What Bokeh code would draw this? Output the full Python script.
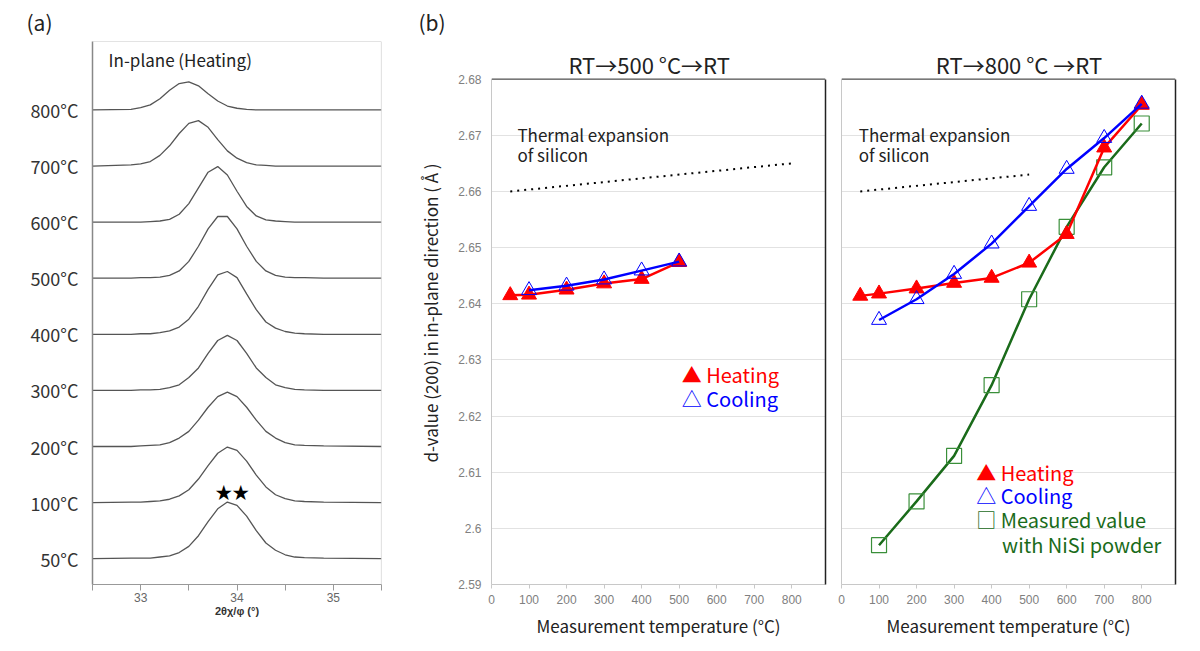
from bokeh.plotting import figure
from bokeh.layouts import row
from bokeh.models import (FixedTicker, CustomJSTickFormatter, Span, Label, Range1d,
                          LinearAxis, Title)
from bokeh.embed import file_html
from bokeh.resources import INLINE

# ---------------- panel (a): in-plane XRD profiles (heating) ----------------
two_theta = [32.5, 32.9, 33.0, 33.1, 33.2, 33.3, 33.4, 33.5, 33.6, 33.7, 33.8,
             33.9, 34.0, 34.1, 34.2, 34.3, 34.4, 34.5, 34.6, 34.7, 34.9, 35.5]
temp_labels = ["50°C", "100°C", "200°C", "300°C", "400°C", "500°C", "600°C", "700°C", "800°C"]
int_50 = [0.0, 0.01, 0.01, 0.01, 0.03, 0.05, 0.11, 0.22, 0.41, 0.66, 0.89, 1.01, 0.95, 0.76, 0.50, 0.28, 0.15, 0.07, 0.03, 0.02, 0.01, 0.0]
int_100 = [0.0, 0.01, 0.01, 0.02, 0.03, 0.06, 0.12, 0.23, 0.42, 0.66, 0.88, 0.99, 0.93, 0.74, 0.49, 0.28, 0.14, 0.07, 0.03, 0.02, 0.01, 0.0]
int_200 = [0.0, 0.0, 0.01, 0.02, 0.03, 0.07, 0.15, 0.27, 0.47, 0.70, 0.89, 0.97, 0.89, 0.70, 0.47, 0.27, 0.15, 0.07, 0.03, 0.02, 0.01, 0.0]
int_300 = [0.0, 0.0, 0.01, 0.01, 0.02, 0.05, 0.10, 0.23, 0.40, 0.66, 0.89, 0.98, 0.89, 0.66, 0.40, 0.23, 0.10, 0.05, 0.02, 0.01, 0.0, 0.0]
int_400 = [0.0, 0.0, 0.01, 0.01, 0.03, 0.06, 0.13, 0.27, 0.50, 0.80, 1.06, 1.12, 1.01, 0.72, 0.44, 0.22, 0.11, 0.05, 0.02, 0.01, 0.0, 0.0]
int_500 = [0.0, 0.0, 0.01, 0.01, 0.02, 0.05, 0.13, 0.30, 0.57, 0.88, 1.10, 1.10, 0.88, 0.57, 0.30, 0.13, 0.05, 0.02, 0.01, 0.01, 0.0, 0.0]
int_600 = [0.0, 0.0, 0.0, 0.01, 0.02, 0.05, 0.14, 0.33, 0.61, 0.89, 0.99, 0.84, 0.55, 0.28, 0.11, 0.04, 0.02, 0.01, 0.0, 0.0, 0.0, 0.0]
int_700 = [0.0, 0.02, 0.04, 0.08, 0.19, 0.36, 0.58, 0.76, 0.81, 0.69, 0.47, 0.27, 0.14, 0.06, 0.02, 0.01, 0.0, 0.0, 0.0, 0.0, 0.0, 0.0]
int_800 = [0.0, 0.01, 0.04, 0.09, 0.20, 0.35, 0.47, 0.50, 0.43, 0.29, 0.16, 0.07, 0.03, 0.01, 0.0, 0.0, 0.0, 0.0, 0.0, 0.0, 0.0, 0.0]
profiles = [int_50, int_100, int_200, int_300, int_400, int_500, int_600, int_700, int_800]
theta_major_ticks = [33, 34, 35]
theta_minor_ticks = [32.5, 33.5, 34.5, 35.5]

# ---------------- panel (b): d-value (200) vs temperature ----------------
temp_ticks = [0, 100, 200, 300, 400, 500, 600, 700, 800]
d_ticks = [2.59, 2.60, 2.61, 2.62, 2.63, 2.64, 2.65, 2.66, 2.67, 2.68]

heat500_t = [50, 100, 200, 300, 400, 500]
heat500_d = [2.6415, 2.6416, 2.6425, 2.6436, 2.6444, 2.6474]
cool500_t = [100, 200, 300, 400, 500]
cool500_d = [2.6424, 2.6432, 2.6443, 2.6459, 2.6475]
si500_t = [50, 800]
si500_d = [2.660, 2.665]

heat800_t = [50, 100, 200, 300, 400, 500, 600, 700, 800]
heat800_d = [2.6414, 2.6418, 2.6427, 2.6437, 2.6446, 2.6473, 2.6524, 2.6678, 2.6754]
cool800_t = [100, 200, 300, 400, 500, 600, 700, 800]
cool800_d = [2.6371, 2.6408, 2.6453, 2.6507, 2.6574, 2.6640, 2.6695, 2.6756]
nisi_t = [100, 200, 300, 400, 500, 600, 700, 800]
nisi_d = [2.5970, 2.6048, 2.6129, 2.6255, 2.6408, 2.6537, 2.6643, 2.6721]
si800_t = [50, 500]
si800_d = [2.660, 2.663]

FONT = "Noto Sans CJK JP"
TICKFONT = "Liberation Sans"
RED = "#ff0000"
BLUE = "#0000ff"
GREEN_LINE = "#1a6b1a"
GREEN_MK = "#3a8f3a"
H = 640
MB_TOP = 39
MB_BOTTOM = 54
T_MAX = 890
D_MIN, D_AXIS_MAX, D_VIEW_MAX = 2.59, 2.68, 2.6867


def make_fig(width, xr, yr, mbl, mbr):
    p = figure(width=width, height=H, x_range=xr, y_range=yr,
               output_backend="svg", toolbar_location=None,
               min_border_left=mbl, min_border_right=mbr,
               min_border_top=MB_TOP, min_border_bottom=MB_BOTTOM)
    p.outline_line_color = None
    p.background_fill_color = "white"
    p.border_fill_color = "white"
    return p


# ===== panel (a) =====
pa = make_fig(408, Range1d(32.5, 35.5), Range1d(-0.46, 9.22), 92, 27)
pa.xgrid.visible = False
pa.ygrid.visible = False
for i, prof in enumerate(profiles):
    pa.line(two_theta, [i + v for v in prof], line_color="#555555", line_width=1.3)

pa.xaxis.ticker = FixedTicker(ticks=theta_major_ticks, minor_ticks=theta_minor_ticks)
pa.xaxis.major_tick_out = 6
pa.xaxis.major_tick_in = 0
pa.xaxis.minor_tick_out = 6
pa.xaxis.minor_tick_in = 0
pa.xaxis.major_tick_line_color = "#999999"
pa.xaxis.minor_tick_line_color = "#999999"
pa.xaxis.axis_line_color = "#999999"
pa.xaxis.major_label_text_font = TICKFONT
pa.xaxis.major_label_text_font_size = "12px"
pa.xaxis.major_label_text_color = "#666666"
pa.xaxis.major_label_standoff = 2
pa.xaxis.axis_label = "2θχ/φ (°)"
pa.xaxis.axis_label_text_font = TICKFONT
pa.xaxis.axis_label_text_font_size = "11px"
pa.xaxis.axis_label_text_font_style = "bold"
pa.xaxis.axis_label_text_color = "#333333"
pa.xaxis.axis_label_standoff = 0

pa.yaxis.ticker = FixedTicker(ticks=list(range(len(temp_labels))))
pa.yaxis.formatter = CustomJSTickFormatter(args=dict(labels=temp_labels),
                                           code="return labels[Math.round(tick)] || '';")
pa.yaxis.major_tick_out = 0
pa.yaxis.major_tick_in = 0
pa.yaxis.minor_tick_out = 0
pa.yaxis.minor_tick_in = 0
pa.yaxis.axis_line_color = "#888888"
pa.yaxis.axis_line_width = 1.5
pa.yaxis.major_label_text_font = FONT
pa.yaxis.major_label_text_font_size = "18px"
pa.yaxis.major_label_text_color = "#333333"
pa.yaxis.major_label_standoff = 14

pa.add_layout(Span(location=9.22, dimension="width", line_color="#c8c8c8", line_width=1.2))
pa.add_layout(Span(location=35.5, dimension="height", line_color="#c8c8c8", line_width=1.2))

pa.add_layout(Label(x=32.667, y=8.9, text="In-plane (Heating)", text_font=FONT,
                    text_font_size="17px", text_color="#222222", text_baseline="middle"))
pa.add_layout(Label(x=33.95, y=1.2, text="★★", text_font=FONT, text_font_size="17px",
                    text_color="black", text_align="center", text_baseline="middle"))
pa.add_layout(Title(text="(a)", align="left", offset=-66, text_font=FONT,
                    text_font_size="21px", text_font_style="normal", text_color="#222222",
                    standoff=9), "above")


# ===== panel (b) helper =====
def style_b(p, show_ylabels):
    p.xgrid.visible = False
    p.ygrid.ticker = FixedTicker(ticks=d_ticks)
    p.ygrid.grid_line_color = "#e2e2e2"
    p.ygrid.grid_line_width = 1
    p.xaxis.ticker = FixedTicker(ticks=temp_ticks)
    for ax in (p.xaxis[0], p.yaxis[0]):
        ax.axis_line_color = "#c8c8c8"
        ax.major_tick_line_color = "#c8c8c8"
        ax.minor_tick_line_color = None
        ax.major_tick_in = 0
        ax.major_label_text_font = TICKFONT
        ax.major_label_text_font_size = "12px"
        ax.major_label_text_color = "#808080"
        ax.axis_label_text_font = FONT
        ax.axis_label_text_font_size = "17px"
        ax.axis_label_text_font_style = "normal"
        ax.axis_label_text_color = "#222222"
    p.xaxis.major_tick_out = 4
    p.xaxis.major_label_standoff = 6
    p.xaxis.axis_label = "Measurement temperature (°C)"
    p.xaxis.axis_label_standoff = 6
    p.yaxis.major_tick_out = 0
    p.yaxis.bounds = (D_MIN, D_AXIS_MAX)
    if show_ylabels:
        p.yaxis.ticker = FixedTicker(ticks=d_ticks)
        p.yaxis.formatter = CustomJSTickFormatter(code="return Number(tick.toFixed(2)).toString();")
        p.yaxis.major_label_standoff = 10
        p.yaxis.axis_label = "d-value (200) in in-plane direction ( Å )"
        p.yaxis.axis_label_standoff = 12
    else:
        p.yaxis.ticker = FixedTicker(ticks=[])
        p.yaxis.major_label_standoff = 0
    right = LinearAxis(ticker=FixedTicker(ticks=[]), bounds=(D_MIN, D_AXIS_MAX),
                       axis_line_color="#222222", axis_line_width=1.5,
                       major_tick_out=0, major_tick_in=0, minor_tick_out=0, minor_tick_in=0,
                       major_label_standoff=0)
    p.add_layout(right, "right")
    p.add_layout(Span(location=D_AXIS_MAX, dimension="width", line_color="#555555", line_width=1.3))


def si_text(p, x):
    p.add_layout(Label(x=x, y=2.6701, text="Thermal expansion", text_font=FONT,
                       text_font_size="17px", text_color="#222222", text_baseline="middle"))
    p.add_layout(Label(x=x, y=2.66656, text="of silicon", text_font=FONT,
                       text_font_size="17px", text_color="#222222", text_baseline="middle"))


def panel_title(p, x, text):
    p.add_layout(Label(x=x, y=2.68265, text=text, text_font=FONT, text_font_size="22px",
                       text_color="#222222", text_align="center", text_baseline="middle"))


# ===== panel (b) left: RT->500 C->RT =====
pb1 = make_fig(425, Range1d(0, T_MAX), Range1d(D_MIN, D_VIEW_MAX), 83, 8)
style_b(pb1, True)
panel_title(pb1, 420, "RT→500 °C→RT")
pb1.line(si500_t, si500_d, line_color="black", line_width=2, line_dash="2 5")
pb1.line(heat500_t, heat500_d, line_color=RED, line_width=2.5)
pb1.scatter(heat500_t, heat500_d, marker="triangle", size=15, fill_color=RED, line_color=RED)
pb1.line(cool500_t, cool500_d, line_color=BLUE, line_width=2.5)
pb1.scatter(cool500_t, cool500_d, marker="triangle", size=15, fill_color=None, line_color=BLUE, line_width=1)
si_text(pb1, 69)
pb1.add_layout(Label(x=507, y=2.62731, text="▲ Heating", text_font=FONT, text_font_size="20px",
                     text_color=RED, text_baseline="middle"))
pb1.add_layout(Label(x=507, y=2.62306, text="△ Cooling", text_font=FONT, text_font_size="20px",
                     text_color=BLUE, text_baseline="middle"))
pb1.add_layout(Title(text="(b)", align="left", offset=-73, text_font=FONT,
                     text_font_size="21px", text_font_style="normal", text_color="#222222",
                     standoff=9), "above")

# ===== panel (b) right: RT->800 C->RT =====
pb2 = make_fig(352, Range1d(0, T_MAX), Range1d(D_MIN, D_VIEW_MAX), 8, 10)
style_b(pb2, False)
panel_title(pb2, 473, "RT→800 °C →RT")
pb2.line(si800_t, si800_d, line_color="black", line_width=2, line_dash="2 5")
pb2.line(nisi_t, nisi_d, line_color=GREEN_LINE, line_width=2.5)
pb2.scatter(nisi_t, nisi_d, marker="square", size=15, fill_color=None, line_color=GREEN_MK, line_width=1.2)
pb2.line(heat800_t, heat800_d, line_color=RED, line_width=2.5)
pb2.scatter(heat800_t, heat800_d, marker="triangle", size=15, fill_color=RED, line_color=RED)
pb2.line(cool800_t, cool800_d, line_color=BLUE, line_width=2.5)
pb2.scatter(cool800_t, cool800_d, marker="triangle", size=15, fill_color=None, line_color=BLUE, line_width=1)
si_text(pb2, 46)
pb2.add_layout(Label(x=359, y=2.61003, text="▲ Heating", text_font=FONT, text_font_size="20px",
                     text_color=RED, text_baseline="middle"))
pb2.add_layout(Label(x=359, y=2.60579, text="△ Cooling", text_font=FONT, text_font_size="20px",
                     text_color=BLUE, text_baseline="middle"))
pb2.add_layout(Label(x=359, y=2.60149, text="□ Measured value", text_font=FONT, text_font_size="20px",
                     text_color=GREEN_LINE, text_baseline="middle"))
pb2.add_layout(Label(x=428, y=2.59713, text="with NiSi powder", text_font=FONT, text_font_size="20px",
                     text_color=GREEN_LINE, text_baseline="middle"))

layout = row(pa, pb1, pb2)
open("out.html", "w").write(file_html(layout, INLINE))
